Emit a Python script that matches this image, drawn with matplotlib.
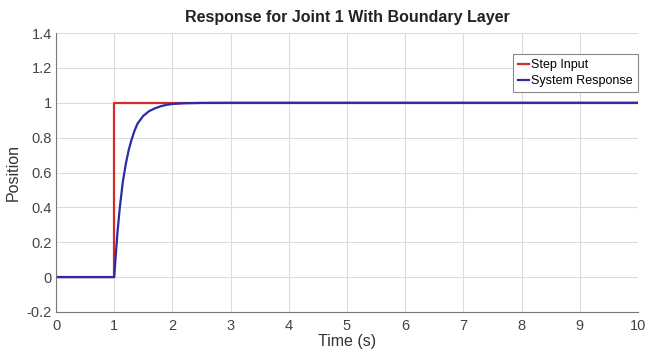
import matplotlib

matplotlib.use("Agg")
import matplotlib.pyplot as plt  # noqa: E402
from matplotlib.ticker import FuncFormatter  # noqa: E402

plt.rcParams["font.family"] = ["Liberation Sans", "DejaVu Sans"]

# step input
step_t = [0, 1.0, 1.0, 10]
step_y = [0, 0, 1.0, 1.0]

# system response
resp_t = [0, 1.0, 1.03, 1.06, 1.10, 1.15, 1.20, 1.25, 1.30, 1.35, 1.40,
          1.50, 1.60, 1.70, 1.80, 1.90, 2.0, 2.2, 2.5, 3.0, 10]
resp_y = [0, 0, 0.14, 0.27, 0.41, 0.55, 0.65, 0.73, 0.79, 0.84, 0.88,
          0.925, 0.952, 0.968, 0.98, 0.988, 0.993, 0.997, 0.999, 1.0, 1.0]

x_ticks = list(range(0, 11))
y_ticks = [-0.2, 0, 0.2, 0.4, 0.6, 0.8, 1.0, 1.2, 1.4]

fig = plt.figure(figsize=(6.62, 3.58), dpi=100)
ax = fig.add_axes([0.0846, 0.1285, 0.879, 0.7793])

ax.plot(step_t, step_y, color="#d42a2a", lw=1.6, label="Step Input")
ax.plot(resp_t, resp_y, color="#2b2ba8", lw=1.6, label="System Response")

ax.set_xlim(0, 10)
ax.set_ylim(-0.2, 1.4)
ax.set_xticks(x_ticks)
ax.set_yticks(y_ticks)
ax.yaxis.set_major_formatter(FuncFormatter(lambda v, _: f"{v:g}"))
ax.grid(True, color="#dcdcdc", lw=0.8)
ax.set_axisbelow(True)
ax.tick_params(labelsize=10.5, colors="#444444", length=0)
ax.tick_params(axis="x", pad=5)
ax.tick_params(axis="y", pad=3)
for side in ["top", "right"]:
    ax.spines[side].set_visible(False)
for side in ["left", "bottom"]:
    ax.spines[side].set_color("#777777")
    ax.spines[side].set_linewidth(0.8)

ax.set_title("Response for Joint 1 With Boundary Layer", fontsize=11.5,
             fontweight="bold", color="#222222", pad=8)
ax.set_xlabel("Time (s)", fontsize=11.5, color="#333333", labelpad=1)
ax.set_ylabel("Position", fontsize=11.5, color="#333333", labelpad=4)

leg = ax.legend(loc="upper right", bbox_to_anchor=(1.0, 0.925), fontsize=9,
                handlelength=0.9, handletextpad=0.2, borderpad=0.4,
                labelspacing=0.35, fancybox=False, framealpha=1,
                borderaxespad=0)
leg.get_frame().set_edgecolor("#888888")
leg.get_frame().set_linewidth(0.8)

fig.savefig("out.png", dpi=100)
